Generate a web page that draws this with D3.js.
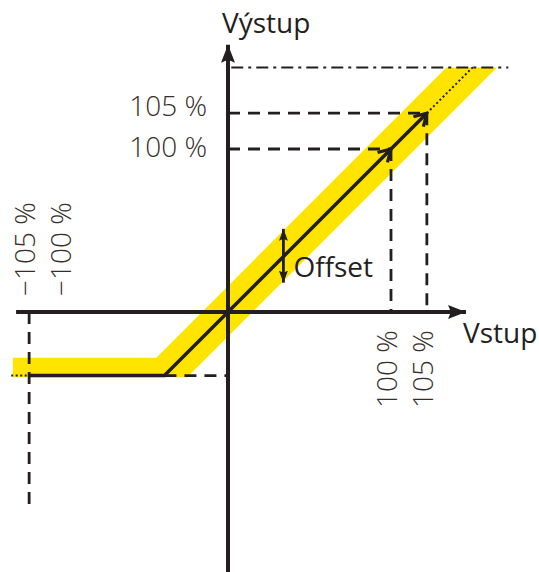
<!DOCTYPE html>
<html>
<head>
<meta charset="utf-8">
<script src="https://cdn.jsdelivr.net/npm/d3@7"></script>
<style>
  body { margin: 0; background: #fff; }
  text { font-family: "Open Sans", "Noto Sans", sans-serif; fill: #231f20; }
</style>
</head>
<body>
<div id="chart"></div>
<script>
// schematic units: 1 = 100 %
var xTickVals = [-1.22, -1, 1, 1.22];
var xTickLabels = ["\u2212105 %", "\u2212100 %", "100 %", "105 %"];
var yTickVals = [1.22, 1];
var yTickLabels = ["105 %", "100 %"];

var lowLevel = -0.39;   // output for low inputs
var kneeX = -0.39;
var topLevel = 1.5;     // dash-dot limit
var curve = [[-1.22, lowLevel], [kneeX, lowLevel], [0, 0], [1, 1]];
var curveExt = [[1, 1], [1.22, 1.22]];
var curveDot = [[1.22, 1.22], [1.51, 1.51]];
var leftDot = [[-1.33, lowLevel], [-1.22, lowLevel]];
var band = [[-1.32, -0.28], [-0.44, -0.28], [1.34, 1.5], [1.65, 1.5], [-0.25, -0.40], [-1.32, -0.40]];
var xAxisRange = [-1.30, 1.46];
var yAxisRange = [-1.62, 1.64];
var offsetArrow = [0.34, 0.51, 0.18];

var width = 539, height = 572;
var ox = 228, oy = 312, unit = 163;

var x = d3.scaleLinear().domain([0, 1]).range([ox, ox + unit]);
var y = d3.scaleLinear().domain([0, 1]).range([oy, oy - unit]);

var svg = d3.select("#chart").append("svg")
  .attr("width", width)
  .attr("height", height);

var ink = "#231f20";

var defs = svg.append("defs");
defs.append("marker")
  .attr("id", "tri")
  .attr("viewBox", "0 0 18 14")
  .attr("refX", 18).attr("refY", 7)
  .attr("markerWidth", 18).attr("markerHeight", 14)
  .attr("markerUnits", "userSpaceOnUse")
  .attr("orient", "auto-start-reverse")
  .append("path")
  .attr("d", "M0,0 L18,7 L0,14 L3,7 Z")
  .style("fill", ink);
defs.append("marker")
  .attr("id", "small")
  .attr("viewBox", "0 0 12 9")
  .attr("refX", 12).attr("refY", 4.5)
  .attr("markerWidth", 12).attr("markerHeight", 9)
  .attr("markerUnits", "userSpaceOnUse")
  .attr("orient", "auto-start-reverse")
  .append("path")
  .attr("d", "M0,0 L12,4.5 L0,9 L2,4.5 Z")
  .style("fill", ink);
defs.append("marker")
  .attr("id", "chev")
  .attr("viewBox", "-13 -9 15 18")
  .attr("refX", 0).attr("refY", 0)
  .attr("markerWidth", 15).attr("markerHeight", 18)
  .attr("markerUnits", "userSpaceOnUse")
  .attr("orient", "auto")
  .append("path")
  .attr("d", "M-12,-7 L0,0 L-12,7")
  .style("fill", "none")
  .style("stroke", ink)
  .style("stroke-width", 3.2);

var line = d3.line()
  .x(function(d) { return x(d[0]); })
  .y(function(d) { return y(d[1]); });

// yellow band
svg.append("path")
  .attr("d", line(band) + "Z")
  .style("fill", "#ffe400");

// dashed guides
var guides = [
  [[0, yTickVals[0]], [xTickVals[3], yTickVals[0]]],
  [[0, yTickVals[1]], [xTickVals[2], yTickVals[1]]],
  [[xTickVals[2], yTickVals[1]], [xTickVals[2], 0]],
  [[xTickVals[3], yTickVals[0]], [xTickVals[3], 0]],
  [[xTickVals[0], 0], [xTickVals[0], -1.21]],
  [[kneeX, lowLevel], [0, lowLevel]]
];
svg.selectAll(".guide")
  .data(guides)
  .enter().append("path")
  .attr("class", "guide")
  .attr("d", line)
  .style("fill", "none")
  .style("stroke", ink)
  .style("stroke-width", 2.8)
  .style("stroke-dasharray", "12,8");

// dash-dot limit
svg.append("path")
  .attr("d", line([[0.02, topLevel], [1.72, topLevel]]))
  .style("fill", "none")
  .style("stroke", ink)
  .style("stroke-width", 2.2)
  .style("stroke-dasharray", "12,5,3,5");

// dotted extensions
[curveDot, leftDot].forEach(function(p) {
  svg.append("path")
    .attr("d", line(p))
    .style("fill", "none")
    .style("stroke", ink)
    .style("stroke-width", 2)
    .style("stroke-dasharray", "2,2.5");
});

// axes
svg.append("path")
  .attr("d", line([[xAxisRange[0], 0], [xAxisRange[1], 0]]))
  .style("stroke", ink)
  .style("stroke-width", 4)
  .attr("marker-end", "url(#tri)");
svg.append("path")
  .attr("d", line([[0, yAxisRange[0]], [0, yAxisRange[1]]]))
  .style("stroke", ink)
  .style("stroke-width", 4)
  .attr("marker-end", "url(#tri)");

// characteristic
svg.append("path")
  .attr("d", line(curve))
  .style("fill", "none")
  .style("stroke", ink)
  .style("stroke-width", 3.5)
  .attr("marker-end", "url(#chev)");
svg.append("path")
  .attr("d", line(curveExt))
  .style("fill", "none")
  .style("stroke", ink)
  .style("stroke-width", 3.5)
  .attr("marker-end", "url(#chev)");

// offset arrow
svg.append("path")
  .attr("d", line([[offsetArrow[0], offsetArrow[1]], [offsetArrow[0], offsetArrow[2]]]))
  .style("stroke", ink)
  .style("stroke-width", 2.8)
  .attr("marker-start", "url(#small)")
  .attr("marker-end", "url(#small)");

// labels
svg.append("text")
  .attr("x", 222).attr("y", 33)
  .style("font-size", "28px")
  .text("Výstup");
svg.append("text")
  .attr("x", 463).attr("y", 343)
  .style("font-size", "28px")
  .text("Vstup");
svg.append("text")
  .attr("x", x(offsetArrow[0]) + 10).attr("y", 277)
  .style("font-size", "28px")
  .text("Offset");

var yLabDy = [3, 8];
svg.selectAll(".ylab")
  .data(yTickVals)
  .enter().append("text")
  .attr("class", "ylab")
  .attr("x", 207)
  .attr("y", function(d, i) { return y(d) + yLabDy[i]; })
  .style("font-size", "28px")
  .style("font-weight", 300)
  .style("fill", "#35302c")
  .style("text-anchor", "end")
  .text(function(d, i) { return yTickLabels[i]; });

svg.selectAll(".xlab")
  .data(xTickVals)
  .enter().append("text")
  .attr("class", "xlab")
  .attr("transform", function(d) {
    var sy = d < 0 ? 296 : 408;
    return "translate(" + (x(d) + 6) + "," + sy + ") rotate(-90)";
  })
  .style("font-size", "28px")
  .style("font-weight", 300)
  .style("fill", "#35302c")
  .text(function(d, i) { return xTickLabels[i]; });
</script>
</body>
</html>
